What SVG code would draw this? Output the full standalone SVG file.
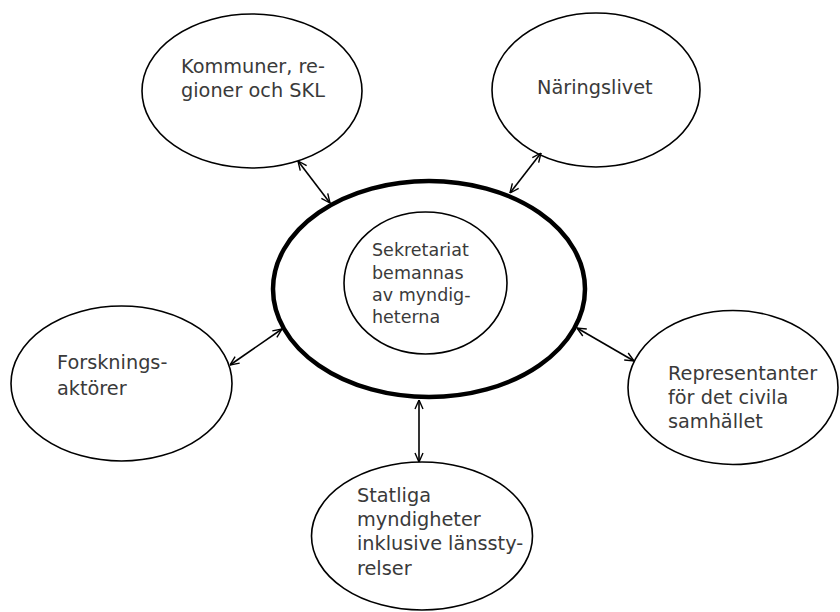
<svg xmlns="http://www.w3.org/2000/svg" width="840" height="612" viewBox="0 0 840 612">
<defs>
<marker id="ah" viewBox="0 0 10 10" refX="10" refY="5" markerWidth="10" markerHeight="10" markerUnits="userSpaceOnUse" orient="auto-start-reverse">
<path d="M1,1 L10,5 L1,9" fill="none" stroke="#000" stroke-width="1.4"/>
</marker>
<style>
.node{fill:#fff;stroke:#000;stroke-width:1.6}
.big{fill:#fff;stroke:#000;stroke-width:4.5}
.t{font-family:"DejaVu Sans",sans-serif;font-size:19.3px;fill:#3a3a3a}
.ti{font-family:"DejaVu Sans",sans-serif;font-size:17.5px;fill:#3a3a3a}
.c{stroke:#000;stroke-width:1.6;fill:none;marker-start:url(#ah);marker-end:url(#ah)}
</style>
</defs>
<rect width="840" height="612" fill="#fff"/>
<g id="center">
<ellipse class="big" cx="429" cy="289" rx="156" ry="108"/>
</g>
<g id="secretariat">
<ellipse class="node" cx="425.5" cy="283" rx="81.5" ry="71"/>
<text class="ti" x="372" y="256">Sekretariat</text>
<text class="ti" x="372" y="279">bemannas</text>
<text class="ti" x="372" y="301">av myndig-</text>
<text class="ti" x="372" y="323">heterna</text>
</g>
<g id="kommuner">
<ellipse class="node" cx="252" cy="91" rx="110" ry="77"/>
<text class="t" x="181" y="73">Kommuner, re-</text>
<text class="t" x="181" y="97">gioner och SKL</text>
</g>
<g id="naringslivet">
<ellipse class="node" cx="596" cy="90" rx="104" ry="77"/>
<text class="t" x="537" y="94">Näringslivet</text>
</g>
<g id="forskning">
<ellipse class="node" cx="121.5" cy="383.5" rx="110.5" ry="77.5"/>
<text class="t" x="57" y="369">Forsknings-</text>
<text class="t" x="57" y="395">aktörer</text>
</g>
<g id="civila">
<ellipse class="node" cx="733" cy="387.5" rx="105" ry="77"/>
<text class="t" x="668" y="380">Representanter</text>
<text class="t" x="668" y="404">för det civila</text>
<text class="t" x="668" y="428">samhället</text>
</g>
<g id="statliga">
<ellipse class="node" cx="422" cy="536" rx="110.5" ry="74"/>
<text class="t" x="357" y="502">Statliga</text>
<text class="t" x="357" y="526">myndigheter</text>
<text class="t" x="357" y="550">inklusive länssty-</text>
<text class="t" x="357" y="575">relser</text>
</g>
<g id="connectors">
<line class="c" x1="298" y1="161" x2="330" y2="203"/>
<line class="c" x1="541" y1="153" x2="510" y2="193"/>
<line class="c" x1="230" y1="365" x2="282" y2="329"/>
<line class="c" x1="577" y1="328" x2="634" y2="361"/>
<line class="c" x1="419" y1="400" x2="419" y2="462"/>
</g>
</svg>
